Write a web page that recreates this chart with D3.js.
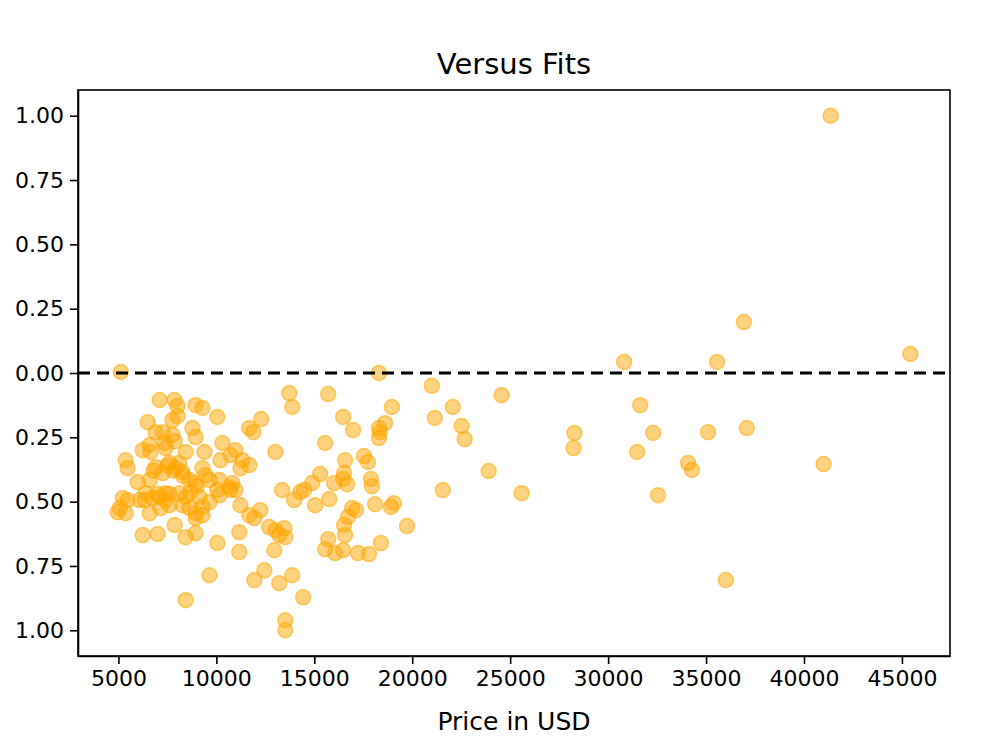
<!DOCTYPE html>
<html>
<head>
<meta charset="utf-8">
<script src="https://cdn.jsdelivr.net/npm/d3@7"></script>
<style>
  body { margin: 0; background: #fff; }
  text { font-family: "DejaVu Sans", sans-serif; fill: #000; }
  .dot { fill: rgba(255,165,0,0.5); stroke: rgba(255,165,0,0.55); stroke-width: 1.5; }
  .zero { stroke: #000; stroke-width: 3; stroke-dasharray: 12,7; }
  .axis path, .axis line { stroke: #000; stroke-width: 1.6; }
</style>
</head>
<body>
<div class="container"></div>
<script>
const WIDTH = 1000;
const HEIGHT = 750;
const MARGIN = {top: 90, right: 50, bottom: 94, left: 78};

const TITLE = "Versus Fits";
const X_LABEL = "Price in USD";

const xTicks = [5000, 10000, 15000, 20000, 25000, 30000, 35000, 40000, 45000];
const yTicks = [1, 0.75, 0.5, 0.25, 0, -0.25, -0.5, -0.75, -1];
const yTickLabels = ["1.00", "0.75", "0.50", "0.25", "0.00", "0.25", "0.50", "0.75", "1.00"];

// price of each car
const price = [
  5120, 7100, 7860, 8020, 8940, 9290, 10050, 6490, 7760, 8020,
  6900, 7260, 7760, 7870, 8780, 8940, 6590, 6240, 6640, 7360,
  7410, 8430, 9390, 10310, 10970, 10720, 11330, 11680, 11230, 10210,
  5370, 5470, 6900, 7610, 7920, 7260, 8270, 9290, 9440, 9650,
  6590, 5980, 8630, 8940, 10160, 10050, 10160, 10670, 10720, 6390,
  6340, 6750, 6080, 7100, 5220, 5470, 5070, 5370, 4960, 7410,
  7410, 7610, 8120, 8430, 8680, 8270, 8630, 9140, 9290, 9650,
  6590, 7150, 8940, 8940, 9290, 7870, 8430, 8940, 6240, 7000,
  10050, 11170, 11170, 11680, 12240, 11940, 12700, 13010, 13470, 13210,
  13520, 12960, 9650, 11940, 12450, 13210, 13870, 8430, 13720, 13870,
  13010, 13360, 13970, 14280, 12290, 11680, 11890, 10820, 10970, 11230,
  15710, 16470, 16980, 15550, 18960, 18610, 18300, 18350, 18300, 17540,
  17740, 16570, 15300, 14890, 14480, 16520, 16470, 16670, 16010, 17890,
  17940, 15040, 15760, 16930, 17130, 18100, 19060, 18910, 19730, 16720,
  16520, 16570, 15710, 15550, 16060, 16470, 17230, 17790, 18400, 13520,
  13520, 14430, 18300, 21000, 21150, 22070, 22520, 22680, 23900, 21560,
  24560, 25580, 28280, 28230, 30820, 31640, 32300, 31480, 34080, 34280,
  32550, 41360, 36930, 35560, 45430, 35100, 37080, 41000, 36010,
  7500, 7800, 8100, 7000, 8300, 7600, 9000, 6800
];

// residual of the fit for each car
const residual = [
  0.004, -0.105, -0.105, -0.128, -0.125, -0.136, -0.171, -0.191, -0.183, -0.167,
  -0.230, -0.230, -0.241, -0.265, -0.214, -0.249, -0.280, -0.300, -0.307, -0.272,
  -0.292, -0.307, -0.307, -0.272, -0.300, -0.319, -0.339, -0.358, -0.370, -0.339,
  -0.339, -0.370, -0.366, -0.350, -0.370, -0.389, -0.385, -0.370, -0.397, -0.416,
  -0.416, -0.424, -0.416, -0.428, -0.416, -0.455, -0.475, -0.444, -0.455, -0.467,
  -0.494, -0.486, -0.494, -0.482, -0.486, -0.494, -0.525, -0.545, -0.541, -0.467,
  -0.494, -0.514, -0.467, -0.482, -0.463, -0.514, -0.525, -0.482, -0.521, -0.502,
  -0.545, -0.525, -0.545, -0.564, -0.553, -0.591, -0.638, -0.623, -0.630, -0.626,
  -0.661, -0.619, -0.696, -0.553, -0.533, -0.564, -0.599, -0.611, -0.603, -0.630,
  -0.638, -0.689, -0.786, -0.805, -0.767, -0.817, -0.786, -0.883, -0.078, -0.132,
  -0.307, -0.455, -0.494, -0.463, -0.179, -0.214, -0.230, -0.428, -0.455, -0.514,
  -0.082, -0.171, -0.222, -0.272, -0.132, -0.195, -0.214, -0.230, -0.253, -0.323,
  -0.346, -0.339, -0.393, -0.428, -0.455, -0.389, -0.412, -0.432, -0.428, -0.412,
  -0.440, -0.514, -0.490, -0.525, -0.533, -0.510, -0.506, -0.521, -0.595, -0.560,
  -0.591, -0.630, -0.646, -0.685, -0.700, -0.689, -0.700, -0.704, -0.661, -0.961,
  -1.000, -0.872, 0.000, -0.050, -0.175, -0.132, -0.206, -0.257, -0.381, -0.455,
  -0.086, -0.467, -0.233, -0.292, 0.043, -0.125, -0.233, -0.307, -0.350, -0.377,
  -0.475, 1.000, 0.198, 0.043, 0.074, -0.230, -0.214, -0.354, -0.805,
  -0.360, -0.380, -0.350, -0.470, -0.400, -0.470, -0.440, -0.380
];

const INNER_WIDTH = WIDTH - MARGIN.left - MARGIN.right;
const INNER_HEIGHT = HEIGHT - MARGIN.top - MARGIN.bottom;

var xMin = d3.min(price), xMax = d3.max(price);
var xPad = (xMax - xMin) * 0.05;
var yMin = d3.min(residual), yMax = d3.max(residual);
var yPad = (yMax - yMin) * 0.05;

var xScale = d3.scaleLinear()
    .domain([xMin - xPad, xMax + xPad])
    .range([0, INNER_WIDTH]);

var yScale = d3.scaleLinear()
    .domain([yMin - yPad, yMax + yPad])
    .range([INNER_HEIGHT, 0]);

var translate = function(x, y){
    return "translate(" + x + "," + y + ")";
};

var svg = d3.select('.container').append('svg')
    .attr('width', WIDTH)
    .attr('height', HEIGHT);

var chart = svg.append('g')
    .attr('transform', translate(MARGIN.left, MARGIN.top));

var points = price.map(function(p, i){ return {x: p, y: residual[i]}; });

chart.append('g').selectAll('circle')
    .data(points)
    .enter()
    .append('circle')
    .classed('dot', true)
    .attr('r', 7.5)
    .attr('cx', function(d){ return xScale(d.x); })
    .attr('cy', function(d){ return yScale(d.y); });

chart.append('line')
    .classed('zero', true)
    .attr('x1', 0)
    .attr('x2', INNER_WIDTH)
    .attr('y1', yScale(0))
    .attr('y2', yScale(0));

var xAxis = d3.axisBottom(xScale)
    .tickValues(xTicks)
    .tickFormat(d3.format('d'))
    .tickSize(8)
    .tickPadding(6)
    .tickSizeOuter(0);

var yAxis = d3.axisLeft(yScale)
    .tickValues(yTicks)
    .tickFormat(function(d, i){ return yTickLabels[i]; })
    .tickSize(8)
    .tickPadding(6)
    .tickSizeOuter(0);

chart.append('g')
    .attr('class', 'axis')
    .attr('transform', translate(0, INNER_HEIGHT))
    .call(xAxis)
    .selectAll('text')
    .style('font-size', '22px')
    .style('font-family', '"DejaVu Sans", sans-serif');

chart.append('g')
    .attr('class', 'axis')
    .call(yAxis)
    .selectAll('text')
    .style('font-size', '22px')
    .style('font-family', '"DejaVu Sans", sans-serif');

// frame
chart.append('rect')
    .attr('width', INNER_WIDTH)
    .attr('height', INNER_HEIGHT)
    .attr('fill', 'none')
    .attr('stroke', '#000')
    .attr('stroke-width', 1.6);

svg.append('text')
    .attr('x', MARGIN.left + INNER_WIDTH / 2)
    .attr('y', MARGIN.top - 16)
    .attr('text-anchor', 'middle')
    .style('font-size', '29px')
    .text(TITLE);

svg.append('text')
    .attr('x', MARGIN.left + INNER_WIDTH / 2)
    .attr('y', HEIGHT - 20)
    .attr('text-anchor', 'middle')
    .style('font-size', '25px')
    .text(X_LABEL);
</script>
</body>
</html>
